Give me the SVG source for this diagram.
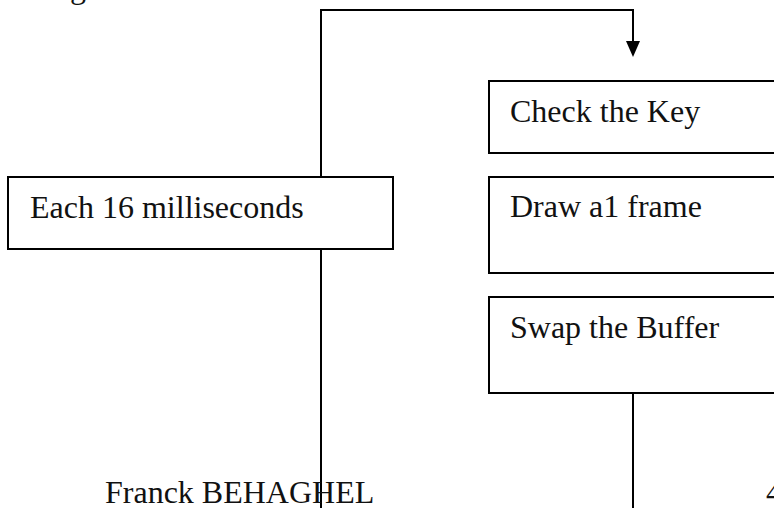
<svg xmlns="http://www.w3.org/2000/svg" width="774" height="508" viewBox="0 0 774 508">
  <style>
    .box { fill: #ffffff; stroke: #000000; stroke-width: 2; }
    .wire { fill: none; stroke: #000000; stroke-width: 2; }
    .head { fill: #000000; stroke: none; }
    .label { font-family: "Liberation Serif", "Times New Roman", serif; font-size: 32px; fill: #111111; }
  </style>
  <rect width="774" height="508" fill="#ffffff"/>

  <!-- heading line above the page top, only its descender shows -->
  <text class="label" x="70" y="-2">g</text>

  <!-- connectors -->
  <g id="connectors">
    <path class="wire" d="M321,177 V10 H633 V44"/>
    <polygon class="head" points="626,41 640,41 633,57"/>
    <path class="wire" d="M321,249 V508"/>
    <path class="wire" d="M633,393 V508"/>
  </g>

  <!-- timer -->
  <g id="timer">
    <rect class="box" x="8" y="177" width="385" height="72"/>
    <text class="label" x="30" y="218">Each 16 milliseconds</text>
  </g>

  <!-- frame steps -->
  <g id="check-key">
    <rect class="box" x="489" y="81" width="300" height="72"/>
    <text class="label" x="510" y="122">Check the Key</text>
  </g>
  <g id="draw-frame">
    <rect class="box" x="489" y="177" width="300" height="96"/>
    <text class="label" x="510" y="217">Draw a1 frame</text>
  </g>
  <g id="swap-buffer">
    <rect class="box" x="489" y="297" width="300" height="96"/>
    <text class="label" x="510" y="338">Swap the Buffer</text>
  </g>

  <!-- footer -->
  <g id="footer">
    <text class="label" x="105" y="503">Franck BEHAGHEL</text>
    <text class="label" x="766" y="503">4</text>
  </g>
</svg>
